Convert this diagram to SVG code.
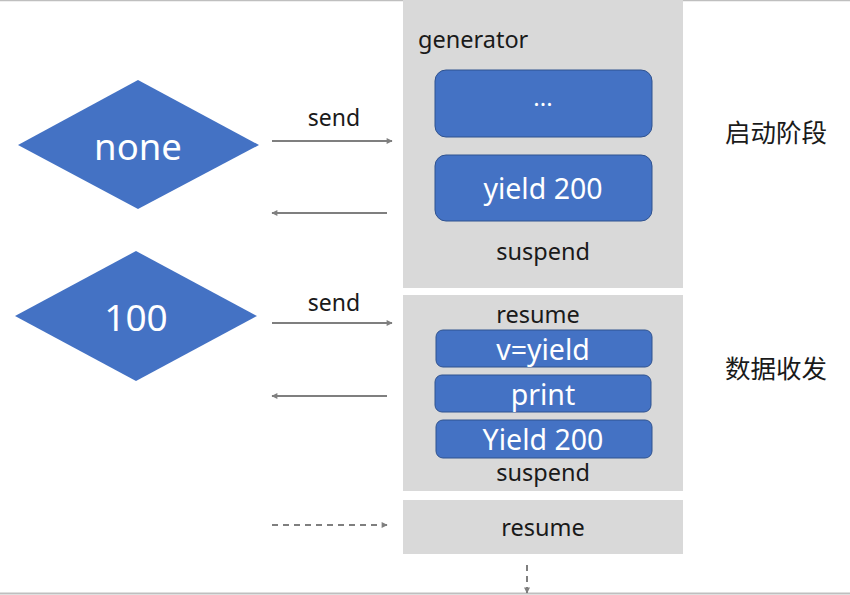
<svg xmlns="http://www.w3.org/2000/svg" width="850" height="595" viewBox="0 0 850 595">
<defs>
<style>
.box{fill:#d9d9d9}
.blk{fill:#4472c4;stroke:#2f528f;stroke-width:1}
.t{font-family:"Noto Sans","Noto Sans CJK SC",sans-serif;text-anchor:middle}
.w{fill:#ffffff}
.k{fill:#1a1a1a}
.ln{stroke:#7f7f7f;stroke-width:2;fill:none}
</style>
<marker id="ah" viewBox="0 0 10 10" refX="9" refY="5" markerWidth="7" markerHeight="6" orient="auto" markerUnits="userSpaceOnUse"><path d="M0,0 L10,5 L0,10 z" fill="#7f7f7f"/></marker>
</defs>
<rect width="850" height="595" fill="#ffffff"/>
<line x1="0" y1="0.5" x2="850" y2="0.5" stroke="#bfbfbf" stroke-width="1.5"/>
<line x1="0" y1="593.5" x2="850" y2="593.5" stroke="#bfbfbf" stroke-width="2"/>
<g id="gen-start">
<rect class="box" x="403" y="0" width="280" height="288"/>
<text class="t k" x="418" y="48" font-size="23.5" style="text-anchor:start">generator</text>
<text class="t k" x="543" y="260" font-size="23.5">suspend</text>
</g>
<g id="blk-dots"><rect class="blk" x="435" y="70" width="217" height="67" rx="11"/><text class="t w" x="543" y="106" font-size="24">...</text></g>
<g id="blk-yield1"><rect class="blk" x="435" y="155" width="217" height="66" rx="11"/><text class="t w" x="543" y="199" font-size="28.5">yield 200</text></g>
<g id="gen-data">
<rect class="box" x="403" y="295" width="280" height="196"/>
<text class="t k" x="538" y="323" font-size="23.5">resume</text>
<text class="t k" x="543" y="481" font-size="23.5">suspend</text>
</g>
<g id="blk-vyield"><rect class="blk" x="436" y="330" width="216" height="37" rx="7"/><text class="t w" x="543" y="360" font-size="28.5">v=yield</text></g>
<g id="blk-print"><rect class="blk" x="435" y="375" width="216" height="37" rx="7"/><text class="t w" x="543" y="405" font-size="28.5">print</text></g>
<g id="blk-yield2"><rect class="blk" x="436" y="420" width="216" height="38" rx="7"/><text class="t w" x="543" y="450" font-size="28.5">Yield 200</text></g>
<g id="gen-resume">
<rect class="box" x="403" y="500" width="280" height="54"/>
<text class="t k" x="543" y="536" font-size="23.5">resume</text>
</g>
<g id="d-none"><polygon fill="#4472c4" points="18,145 138,80 259,145 138,209"/><text class="t w" x="138" y="160" font-size="36.5">none</text></g>
<g id="d-100"><polygon fill="#4472c4" points="15,316 136,251 257,316 136,381"/><text class="t w" x="136" y="331" font-size="37">100</text></g>
<g id="lbl-start"><text class="t k" x="776" y="142" font-size="25.5">启动阶段</text></g>
<g id="lbl-data"><text class="t k" x="776" y="378" font-size="25.5">数据收发</text></g>
<g id="connectors">
<line class="ln" x1="272" y1="141" x2="392" y2="141" marker-end="url(#ah)"/>
<text class="t k" x="334" y="126" font-size="23">send</text>
<line class="ln" x1="387" y1="213" x2="272" y2="213" marker-end="url(#ah)"/>
<line class="ln" x1="272" y1="323" x2="392" y2="323" marker-end="url(#ah)"/>
<text class="t k" x="334" y="311" font-size="23">send</text>
<line class="ln" x1="387" y1="396" x2="272" y2="396" marker-end="url(#ah)"/>
<line class="ln" x1="272" y1="525" x2="387" y2="525" stroke-dasharray="6,5" marker-end="url(#ah)"/>
<line class="ln" x1="527" y1="565" x2="527" y2="593" stroke-dasharray="6,5" marker-end="url(#ah)"/>
</g>
</svg>
